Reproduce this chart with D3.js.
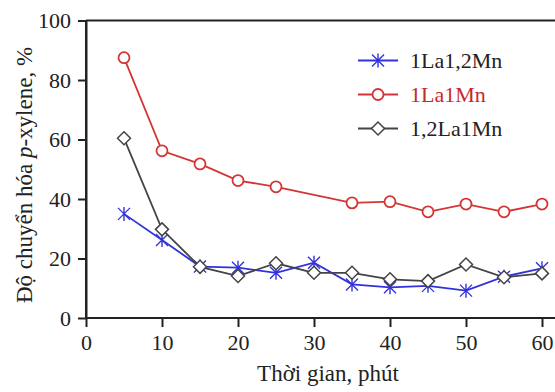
<!DOCTYPE html>
<html>
<head>
<meta charset="utf-8">
<script src="https://cdn.jsdelivr.net/npm/d3@7"></script>
<style>
  body { margin: 0; background: #fff; }
</style>
</head>
<body>
<div id="chart"></div>
<script>
// time, minutes
var times = [5, 10, 15, 20, 25, 30, 35, 40, 45, 50, 55, 60];
// 1La1,2Mn
var laMn12 = [35.0, 26.2, 17.3, 16.9, 15.2, 18.6, 11.3, 10.3, 10.8, 9.2, 13.9, 16.7];
// 1La1Mn (no reading at 30 min)
var laMn11 = [87.5, 56.2, 51.8, 46.2, 44.1, null, 38.7, 39.1, 35.7, 38.3, 35.7, 38.3];
// 1,2La1Mn
var la12Mn = [60.4, 29.8, 17.2, 14.1, 18.4, 15.2, 15.2, 13.0, 12.4, 18.0, 13.7, 15.0];

var xTicks = [0, 10, 20, 30, 40, 50, 60];
var yTicks = [0, 20, 40, 60, 80, 100];

var width = 555, height = 392;
var font = "Liberation Serif";

var svg = d3.select("#chart")
    .append("svg")
    .attr("width", width)
    .attr("height", height);

var x = d3.scaleLinear().domain([0, 60]).range([86, 542]);
var y = d3.scaleLinear().domain([0, 100]).range([318, 20.5]);

// frame (right side runs off the picture)
svg.append("path")
    .attr("d", "M86,20.5H600M86,20.5V318")
    .attr("stroke", "#222")
    .attr("stroke-width", 2)
    .attr("fill", "none");

var xAxis = svg.append("g")
    .attr("transform", "translate(0,318)")
    .call(d3.axisBottom(x).tickValues(xTicks).tickSize(9).tickPadding(7).tickSizeOuter(0));
xAxis.select(".domain").attr("d", "M86,0H600");

var yAxis = svg.append("g")
    .attr("transform", "translate(86,0)")
    .call(d3.axisLeft(y).tickValues(yTicks).tickSize(8).tickPadding(7).tickSizeOuter(0));

svg.selectAll(".tick line, .domain")
    .attr("stroke", "#222")
    .attr("stroke-width", 2);
svg.selectAll(".tick text")
    .attr("font-family", font)
    .attr("font-size", 22)
    .attr("fill", "#222");

// axis titles
svg.append("text")
    .attr("x", 328)
    .attr("y", 381)
    .attr("text-anchor", "middle")
    .attr("font-family", font)
    .attr("font-size", 23)
    .attr("fill", "#222")
    .text("Thời gian, phút");

var yt = svg.append("text")
    .attr("transform", "translate(32,175) rotate(-90)")
    .attr("text-anchor", "middle")
    .attr("font-family", font)
    .attr("font-size", 23)
    .attr("fill", "#222");
yt.append("tspan").text("Độ chuyển hóa ");
yt.append("tspan").attr("font-style", "italic").text("p");
yt.append("tspan").text("-xylene, %");

var series = [
  {name: "1La1,2Mn", values: laMn12, color: "#3232dc", marker: "star", textColor: "#222"},
  {name: "1La1Mn", values: laMn11, color: "#d43434", marker: "circle", textColor: "#c82828"},
  {name: "1,2La1Mn", values: la12Mn, color: "#444", marker: "diamond", textColor: "#222"}
];

var line = d3.line()
    .x(function(d) { return x(d.t); })
    .y(function(d) { return y(d.v); });

function drawMarker(g, type, color) {
  if (type === "circle") {
    g.append("circle").attr("r", 5.5)
        .attr("fill", "#fff").attr("stroke", color).attr("stroke-width", 1.8);
  } else if (type === "diamond") {
    g.append("path").attr("d", "M0,-6.5L6.5,0L0,6.5L-6.5,0Z")
        .attr("fill", "#fff").attr("stroke", color).attr("stroke-width", 1.5);
  } else {
    g.append("path").attr("d", "M0,-7V7M-6,-6L6,6M-6,6L6,-6")
        .attr("fill", "none").attr("stroke", color).attr("stroke-width", 1.4);
  }
}

series.forEach(function(s) {
  var pts = times.map(function(t, i) { return {t: t, v: s.values[i]}; })
      .filter(function(d) { return d.v != null; });
  var g = svg.append("g");
  g.append("path")
      .datum(pts)
      .attr("d", line)
      .attr("fill", "none")
      .attr("stroke", s.color)
      .attr("stroke-width", 1.8);
  g.selectAll(".pt")
      .data(pts)
      .enter()
      .append("g")
      .attr("transform", function(d) { return "translate(" + x(d.t) + "," + y(d.v) + ")"; })
      .each(function() { drawMarker(d3.select(this), s.marker, s.color); });
});

// legend
var legend = svg.append("g");
series.forEach(function(s, i) {
  var ly = 60.5 + i * 34;
  legend.append("line")
      .attr("x1", 358).attr("x2", 398)
      .attr("y1", ly).attr("y2", ly)
      .attr("stroke", s.color).attr("stroke-width", 1.8);
  var mg = legend.append("g").attr("transform", "translate(378," + ly + ")");
  drawMarker(mg, s.marker, s.color);
  legend.append("text")
      .attr("x", 410).attr("y", ly + 7)
      .attr("font-family", font)
      .attr("font-size", 22)
      .attr("fill", s.textColor)
      .text(s.name);
});
</script>
</body>
</html>
